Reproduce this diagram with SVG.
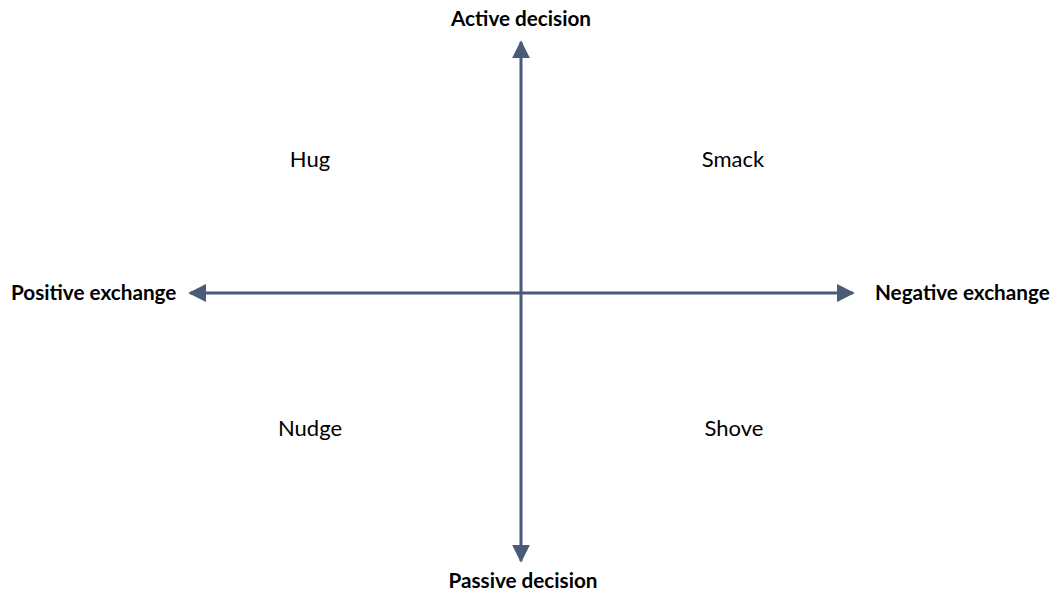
<svg xmlns="http://www.w3.org/2000/svg" width="1054" height="593" viewBox="0 0 1054 593">
  <style>
    .axis { stroke: #4b5b77; stroke-width: 3; fill: none; }
    .pole { font-family: Lato, "Open Sans", "Liberation Sans", sans-serif; font-weight: bold; font-size: 20.7px; fill: #000; }
    .quad { font-family: Lato, "Open Sans", "Liberation Sans", sans-serif; font-size: 22px; fill: #000; text-anchor: middle; }
  </style>
  <defs>
    <marker id="head" viewBox="0 0 10 10" refX="9" refY="5" markerWidth="6" markerHeight="6" orient="auto-start-reverse" markerUnits="strokeWidth">
      <path d="M0,0 L10,5 L0,10 Z" fill="#4b5b77"/>
    </marker>
  </defs>
  <rect width="1054" height="593" fill="#fff"/>

  <!-- two double-headed axes crossing at (521, 293) -->
  <g id="connectors">
    <line class="axis" x1="521" y1="42" x2="521" y2="561" marker-start="url(#head)" marker-end="url(#head)"/>
    <line class="axis" x1="190" y1="293" x2="853" y2="293" marker-start="url(#head)" marker-end="url(#head)"/>
  </g>

  <g id="active-decision"><text class="pole" x="521" y="26" text-anchor="middle">Active decision</text></g>
  <g id="passive-decision"><text class="pole" x="523" y="588" text-anchor="middle">Passive decision</text></g>
  <g id="positive-exchange"><text class="pole" x="11" y="300">Positive exchange</text></g>
  <g id="negative-exchange"><text class="pole" x="875" y="300">Negative exchange</text></g>

  <g id="hug"><text class="quad" x="310" y="167">Hug</text></g>
  <g id="smack"><text class="quad" x="733" y="167">Smack</text></g>
  <g id="nudge"><text class="quad" x="310" y="436">Nudge</text></g>
  <g id="shove"><text class="quad" x="734" y="436">Shove</text></g>
</svg>
